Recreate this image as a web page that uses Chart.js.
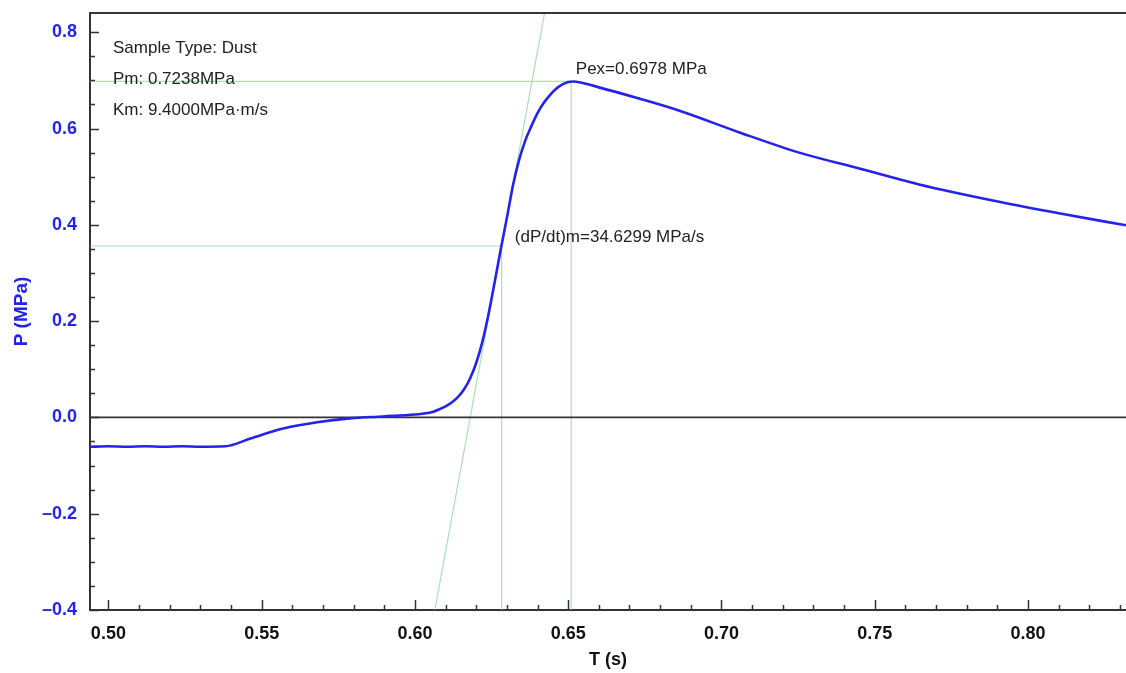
<!DOCTYPE html>
<html>
<head>
<meta charset="utf-8">
<script src="https://cdn.jsdelivr.net/npm/chart.js@4.4.1/dist/chart.umd.min.js"></script>
<style>
  html, body { margin: 0; padding: 0; background: #fff; }
  canvas { display: block; }
</style>
</head>
<body>
<canvas id="myChart" width="1126" height="673"></canvas>
<script>
// pressure curve
const timeS = [0.494, 0.500, 0.506, 0.512, 0.518, 0.524, 0.530, 0.5381,
  0.5463, 0.5570, 0.5681, 0.5788, 0.5896, 0.600, 0.603, 0.606, 0.608,
  0.610, 0.612, 0.614, 0.616, 0.618, 0.620, 0.622, 0.624, 0.626, 0.628,
  0.630, 0.632, 0.634, 0.636, 0.638, 0.640, 0.642, 0.644, 0.646, 0.648,
  0.650, 0.6515, 0.6603, 0.6733, 0.6863, 0.7059, 0.7254, 0.7450,
  0.7645, 0.7906, 0.8101, 0.8320]
const pressureMPa = [-0.061, -0.060, -0.061, -0.060, -0.061, -0.060, -0.061, -0.060,
  -0.044, -0.023, -0.010, -0.002, 0.002, 0.006, 0.008, 0.012, 0.017,
  0.023, 0.031, 0.042, 0.058, 0.081, 0.113, 0.157, 0.214, 0.280, 0.349,
  0.414, 0.482, 0.535, 0.575, 0.605, 0.632, 0.653, 0.669, 0.682, 0.691,
  0.6965, 0.6978, 0.685, 0.662, 0.637, 0.592, 0.550, 0.517,
  0.484, 0.448, 0.424, 0.399]

// guide lines (light green)
const tangentT = [0.6065, 0.6423]
const tangentP = [-0.40, 0.84]
const pexT = [0.494, 0.651, 0.651]
const pexP = [0.6978, 0.6978, -0.40]
const dpdtT = [0.494, 0.6283, 0.6283]
const dpdtP = [0.356, 0.356, -0.40]
const zeroT = [0.494, 0.832]
const zeroP = [0, 0]

// axes
const xRange = [0.494, 0.832]
const yRange = [-0.40, 0.84]
const xMajor = [0.50, 0.55, 0.60, 0.65, 0.70, 0.75, 0.80]
const yMajor = [-0.4, -0.2, 0.0, 0.2, 0.4, 0.6, 0.8]

// texts
const infoLines = ['Sample Type: Dust', 'Pm: 0.7238MPa', 'Km: 9.4000MPa\u00b7m/s']
const pexLabel = 'Pex=0.6978 MPa'
const dpdtLabel = '(dP/dt)m=34.6299 MPa/s'

const blue = 'rgb(35, 35, 235)'
const green = 'rgba(140, 215, 150, 0.75)'
const axisColor = '#333'
const fontFam = '"Liberation Sans", Arial, sans-serif'

function pts(xs, ys){
    return xs.map((x, i) => ({x: x, y: ys[i]}))
}

// inward ticks, top frame line and texts
const decor = {
    id: 'decor',
    afterDraw(chart){
        const {ctx, chartArea: a, scales: {x, y}} = chart
        ctx.save()
        ctx.strokeStyle = axisColor
        ctx.lineWidth = 2
        ctx.beginPath()
        ctx.moveTo(a.left, a.top)
        ctx.lineTo(a.right, a.top)
        ctx.stroke()

        ctx.lineWidth = 1.5
        for (let i = 50; i <= 83; i++) {
            const px = Math.round(x.getPixelForValue(i / 100)) + 0.5
            const len = (i % 5 === 0) ? 10 : 5
            ctx.beginPath()
            ctx.moveTo(px, a.bottom)
            ctx.lineTo(px, a.bottom - len)
            ctx.stroke()
        }
        for (let i = -8; i <= 16; i++) {
            const py = Math.round(y.getPixelForValue(i * 0.05)) + 0.5
            const len = (i % 4 === 0) ? 9 : 5
            ctx.beginPath()
            ctx.moveTo(a.left, py)
            ctx.lineTo(a.left + len, py)
            ctx.stroke()
        }

        ctx.fillStyle = '#222'
        ctx.font = '17px ' + fontFam
        ctx.textBaseline = 'middle'
        ctx.textAlign = 'left'
        infoLines.forEach((t, i) => {
            ctx.fillText(t, a.left + 23, a.top + 35 + i * 31)
        })
        ctx.fillText(pexLabel, x.getPixelForValue(0.6525), y.getPixelForValue(0.6978) - 12)
        ctx.fillText(dpdtLabel, x.getPixelForValue(0.6326), y.getPixelForValue(0.375))
        ctx.restore()
    }
}

const guide = (data) => ({
    data: data,
    borderColor: green,
    borderWidth: 1.2,
    pointRadius: 0,
    order: 2
})

const config = {
    type: 'line',
    data: {
        datasets: [{
            label: 'P',
            data: pts(timeS, pressureMPa),
            borderColor: blue,
            borderWidth: 2.6,
            pointRadius: 0,
            cubicInterpolationMode: 'monotone',
            order: 0
        },
        guide(pts(tangentT, tangentP)),
        guide(pts(pexT, pexP)),
        guide(pts(dpdtT, dpdtP)),
        {
            data: pts(zeroT, zeroP),
            borderColor: axisColor,
            borderWidth: 1.8,
            pointRadius: 0,
            order: 1
        }]
    },
    options: {
        responsive: false,
        animation: false,
        devicePixelRatio: 1,
        layout: {padding: {top: 13, right: 0, left: 0, bottom: 0}},
        plugins: {legend: {display: false}, tooltip: {enabled: false}},
        scales: {
            x: {
                type: 'linear',
                min: xRange[0],
                max: xRange[1],
                afterBuildTicks: (s) => { s.ticks = xMajor.map(v => ({value: v})) },
                afterFit: (s) => { s.height = 63 },
                ticks: {
                    padding: 5,
                    color: '#111',
                    font: {family: fontFam, size: 18, weight: 'bold'},
                    callback: (v) => v.toFixed(2)
                },
                grid: {display: false},
                border: {display: true, color: axisColor, width: 2},
                title: {
                    display: true,
                    text: 'T (s)',
                    color: '#111',
                    font: {family: fontFam, size: 18, weight: 'bold'},
                    padding: {top: 2, bottom: 2}
                }
            },
            y: {
                min: yRange[0],
                max: yRange[1],
                afterBuildTicks: (s) => { s.ticks = yMajor.map(v => ({value: v})) },
                afterFit: (s) => {
                    s.width = 90
                    s.paddingTop = 0
                    s.paddingBottom = 0
                },
                ticks: {
                    padding: 5,
                    color: blue,
                    font: {family: fontFam, size: 18, weight: 'bold'},
                    callback: (v) => (v < -1e-9 ? '\u2013' : '') + Math.abs(v).toFixed(1)
                },
                grid: {display: false},
                border: {display: true, color: axisColor, width: 2},
                title: {
                    display: true,
                    text: 'P (MPa)',
                    color: blue,
                    font: {family: fontFam, size: 19, weight: 'bold'},
                    padding: {top: 10, bottom: 0}
                }
            }
        }
    },
    plugins: [decor]
}

const myChart = new Chart(document.getElementById('myChart'), config)
</script>
</body>
</html>
